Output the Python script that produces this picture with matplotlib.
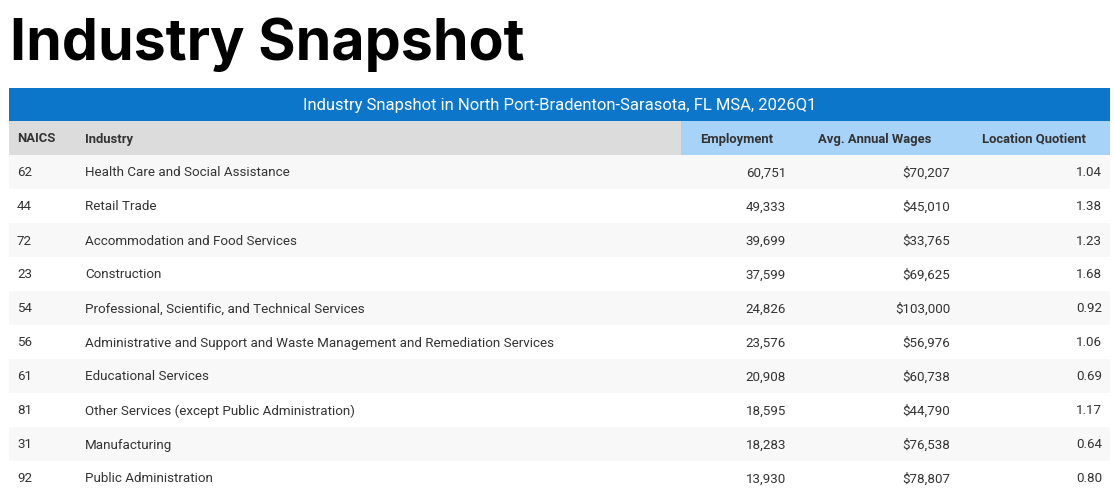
import matplotlib

matplotlib.use("Agg")

import matplotlib.pyplot as plt
from matplotlib.patches import Rectangle

WIDTH = 1114
HEIGHT = 491

TITLE = "Industry Snapshot"
TABLE_TITLE = "Industry Snapshot in North Port-Bradenton-Sarasota, FL MSA, 2026Q1"
HEADERS = ["NAICS", "Industry", "Employment", "Avg. Annual Wages", "Location Quotient"]

naics = ["62", "44", "72", "23", "54", "56", "61", "81", "31", "92"]
industries = [
    "Health Care and Social Assistance",
    "Retail Trade",
    "Accommodation and Food Services",
    "Construction",
    "Professional, Scientific, and Technical Services",
    "Administrative and Support and Waste Management and Remediation Services",
    "Educational Services",
    "Other Services (except Public Administration)",
    "Manufacturing",
    "Public Administration",
]
employment = [60751, 49333, 39699, 37599, 24826, 23576, 20908, 18595, 18283, 13930]
wages = [70207, 45010, 33765, 69625, 103000, 56976, 60738, 44790, 76538, 78807]
location_quotient = [1.04, 1.38, 1.23, 1.68, 0.92, 1.06, 0.69, 1.17, 0.64, 0.80]

# Pixel layout of the table.
LEFT = 9
RIGHT = 1110
BAR_TOP = 88
BAR_H = 33
HEAD_TOP = 121
HEAD_H = 34
ROW_TOP = 155
ROW_H = 34
BLUE_START = 681

BLUE = "#0c76cb"
LIGHT_BLUE = "#a7d3f9"
HEAD_GREY = "#dcdcdc"
ROW_GREY = "#f8f8f8"
TEXT = "#333333"

BODY_FONT = ["Roboto", "DejaVu Sans"]


def main():
    fig = plt.figure(figsize=(WIDTH / 100, HEIGHT / 100), dpi=100)
    ax = fig.add_axes([0, 0, 1, 1])
    ax.set_xlim(0, WIDTH)
    ax.set_ylim(HEIGHT, 0)
    ax.axis("off")

    # Page heading, stretched to the reference width.
    title = ax.text(10, 60, TITLE, fontsize=46, fontweight="bold",
                    family=["Inter", "Open Sans", "DejaVu Sans"],
                    color="black", ha="left", va="baseline")
    fig.canvas.draw()
    bbox = title.get_window_extent()
    title.set_fontsize(46 * 515 / bbox.width)

    # Blue title bar
    ax.add_patch(Rectangle((LEFT, BAR_TOP), RIGHT - LEFT, BAR_H, facecolor=BLUE, edgecolor="none"))
    ax.text((LEFT + RIGHT) / 2, BAR_TOP + BAR_H / 2 + 1, TABLE_TITLE, fontsize=12.0,
            family=BODY_FONT, color="white", ha="center", va="center")

    # Header row
    ax.add_patch(Rectangle((LEFT, HEAD_TOP), BLUE_START - LEFT, HEAD_H, facecolor=HEAD_GREY, edgecolor="none"))
    ax.add_patch(Rectangle((BLUE_START, HEAD_TOP), RIGHT - BLUE_START, HEAD_H, facecolor=LIGHT_BLUE, edgecolor="none"))
    head_y = HEAD_TOP + HEAD_H / 2 + 1
    head_x = [17, 85, 737, 875, 1034]
    head_ha = ["left", "left", "center", "center", "center"]
    for label, x, ha in zip(HEADERS, head_x, head_ha):
        ax.text(x, head_y, label, fontsize=9.4, fontweight="bold", family=BODY_FONT,
                color=TEXT, ha=ha, va="center")

    # Body rows
    for i in range(len(naics)):
        top = ROW_TOP + i * ROW_H
        if i % 2 == 0:
            ax.add_patch(Rectangle((LEFT, top), RIGHT - LEFT, ROW_H, facecolor=ROW_GREY, edgecolor="none"))
        y = top + ROW_H / 2 + 1
        cells = [
            (17, naics[i], "left"),
            (85, industries[i], "left"),
            (786, f"{employment[i]:,}", "right"),
            (950, f"${wages[i]:,}", "right"),
            (1102, f"{location_quotient[i]:.2f}", "right"),
        ]
        for x, label, ha in cells:
            ax.text(x, y, label, fontsize=9.6, family=BODY_FONT, color=TEXT, ha=ha, va="center")

    fig.savefig("out.png", dpi=100, facecolor="white")
    plt.close(fig)


if __name__ == "__main__":
    main()
